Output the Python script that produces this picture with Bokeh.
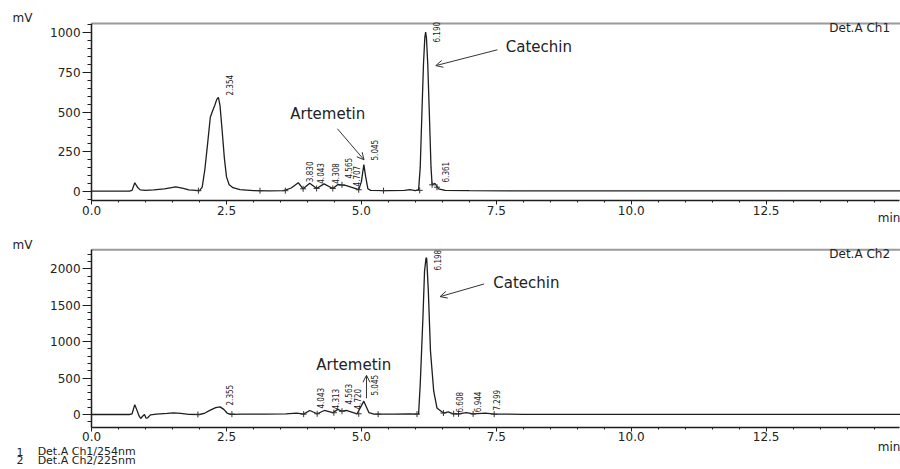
import math
from bokeh.plotting import figure
from bokeh.models import (Range1d, LinearAxis, SingleIntervalTicker, Label, LabelSet,
                          ColumnDataSource, Arrow, OpenHead, PrintfTickFormatter)
from bokeh.layouts import column
from bokeh.embed import file_html
from bokeh.resources import INLINE
from bokeh.core.properties import value

# ---------------- data ----------------
# Channel 1 (254 nm) trace: time (min) / signal (mV)
ch1_t = [0.00, 0.70, 0.75, 0.80, 0.85, 0.90, 1.00, 1.15, 1.35, 1.56, 1.70, 1.80, 2.00,
         2.05, 2.10, 2.15, 2.20, 2.24, 2.28, 2.32, 2.35, 2.38, 2.42, 2.46, 2.50, 2.55,
         2.62, 2.75, 3.00, 3.30, 3.56, 3.70, 3.83, 3.92, 4.043, 4.17, 4.308, 4.47, 4.565,
         4.64, 4.707, 4.95, 5.00, 5.045, 5.08, 5.12, 5.17, 5.50, 5.80, 5.90, 6.00, 6.06,
         6.09, 6.12, 6.15, 6.175, 6.19, 6.205, 6.23, 6.26, 6.29, 6.31, 6.361, 6.43, 6.55,
         7.00, 8.00, 10.00, 12.50, 15.00]
ch1_mv = [0, 0, 5, 53, 25, 8, 5, 8, 15, 27, 18, 8, 3,
          25, 140, 300, 467, 505, 540, 580, 593, 540, 380, 210, 90, 40,
          22, 10, 4, 2, 3, 20, 53, 15, 50, 17, 46, 17, 42,
          38, 36, 9, 60, 168, 90, 15, 5, 3, 5, 10, 4, 10,
          150, 480, 800, 970, 1004, 970, 800, 480, 150, 40, 50, 15, 5,
          3, 2, 2, 2, 2]

# Channel 2 (225 nm) trace
ch2_t = [0.00, 0.70, 0.75, 0.80, 0.84, 0.88, 0.91, 0.95, 0.98, 1.01, 1.04, 1.09, 1.20,
         1.40, 1.52, 1.65, 1.80, 2.00, 2.10, 2.20, 2.30, 2.38, 2.45, 2.51, 2.58, 2.80,
         3.20, 3.60, 3.80, 3.93, 4.043, 4.18, 4.313, 4.47, 4.563, 4.64, 4.72, 4.92,
         5.045, 5.14, 5.23, 5.60, 5.90, 6.03, 6.06, 6.09, 6.14, 6.17, 6.198, 6.21, 6.24,
         6.28, 6.34, 6.40, 6.52, 6.608, 6.70, 6.80, 6.944, 7.07, 7.299, 7.46, 8.00,
         10.00, 12.50, 15.00]
ch2_mv = [0, 0, 10, 135, 60, -20, -55, -20, 0, -50, -45, -5, 5,
          15, 23, 15, 3, 0, 20, 60, 95, 105, 70, 20, 3, 5,
          5, 8, 20, 5, 55, 10, 55, 25, 70, 45, 55, 10,
          183, 25, 5, 5, 8, 5, 10, 412, 1327, 1968, 2152, 2140, 1700,
          870, 320, 90, 20, 35, 10, 8, 25, 8, 20, 5, 3,
          3, 3, 3]

# Peak labels (retention time) and the level (mV) where each label starts
ch1_labels = ["2.354", "3.830", "4.043", "4.308", "4.565", "4.707", "5.045", "6.190", "6.361"]
ch1_label_mv = [604, 57, 47, 47, 80, 30, 194, 939, 55]
ch2_labels = ["2.355", "4.043", "4.313", "4.563", "4.720", "5.045", "6.198", "6.608", "6.944", "7.299"]
ch2_label_mv = [124, 82, 69, 137, 69, 261, 1978, 27, 32, 55]

# Integration marks (time, mV)
ch1_mark_t = [1.98, 3.12, 3.59, 3.92, 4.17, 4.47, 4.64, 4.95, 5.41, 6.08, 6.31, 6.40]
ch1_mark_mv = [3, 3, 3, 15, 17, 17, 40, 9, 3, 5, 40, 25]
ch2_mark_t = [1.97, 2.60, 3.93, 4.18, 4.49, 4.64, 4.95, 5.31, 6.03, 6.52, 6.71, 6.80, 7.07, 7.46]
ch2_mark_mv = [0, 5, 5, 10, 25, 45, 10, 5, 5, 20, 10, 8, 8, 5]

# axes
t_min, t_max = 0.0, 14.98
x_tick_step = 2.5
ch1_y_bounds = (-59, 1059)
ch2_y_bounds = (-174, 2261)
ch1_y_step = 250
ch2_y_step = 500

FONT = "DejaVu Sans"
NARROW = "DejaVu Sans Condensed"
INK = "#1e1e1e"
TXT = "#222222"
W = 900
X_VIEW = (-1.688, 14.99)


def make_panel(h, y_view, y_bounds, y_step, t, mv, labels, label_mv, mark_t, mark_mv):
    p = figure(width=W, height=h, x_range=Range1d(*X_VIEW), y_range=Range1d(*y_view),
               output_backend="svg", toolbar_location=None,
               x_axis_type=None, y_axis_type=None,
               min_border_left=0, min_border_right=0, min_border_top=0, min_border_bottom=0)
    p.outline_line_color = None
    p.background_fill_color = "white"
    p.border_fill_color = "white"

    xa = LinearAxis(ticker=SingleIntervalTicker(interval=x_tick_step, num_minor_ticks=5),
                    formatter=PrintfTickFormatter(format="%.1f"),
                    fixed_location=y_bounds[0], bounds=(t_min, t_max))
    xa.axis_line_color = INK
    xa.axis_line_width = 1.5
    xa.major_tick_line_color = INK
    xa.minor_tick_line_color = INK
    xa.major_tick_in = 0
    xa.major_tick_out = 4
    xa.minor_tick_in = 0
    xa.minor_tick_out = 2
    xa.major_label_standoff = 1
    xa.major_label_text_font = FONT
    xa.major_label_text_font_size = "12px"
    xa.major_label_text_color = TXT
    p.add_layout(xa, "below")

    ya = LinearAxis(ticker=SingleIntervalTicker(interval=y_step, num_minor_ticks=5),
                    fixed_location=t_min, bounds=y_bounds)
    ya.axis_line_color = INK
    ya.axis_line_width = 1.5
    ya.major_tick_line_color = INK
    ya.minor_tick_line_color = INK
    ya.major_tick_in = 0
    ya.major_tick_out = 9
    ya.minor_tick_in = 0
    ya.minor_tick_out = 4
    ya.major_label_standoff = 2
    ya.major_label_text_font = FONT
    ya.major_label_text_font_size = "12px"
    ya.major_label_text_color = TXT
    p.add_layout(ya, "left")

    # top border of the plotting area
    p.line([t_min, X_VIEW[1]], [y_bounds[1], y_bounds[1]], line_color="#9a9a9a", line_width=2)

    p.line(t, mv, line_color=INK, line_width=1.3)
    p.scatter(mark_t, mark_mv, marker="cross", size=6, line_color="#333333", line_width=1)

    src = ColumnDataSource(dict(x=[float(s) for s in labels], y=label_mv, text=labels))
    p.add_layout(LabelSet(x="x", y="y", text="text", source=src, angle=math.pi / 2,
                          text_align="left", text_baseline="middle", x_offset=11,
                          text_font=value(NARROW), text_font_size=value("8px"),
                          text_color=value(TXT)))
    return p


def txt(p, x, y, s, size="12px", align="left"):
    p.add_layout(Label(x=x, y=y, text=s, text_font=FONT, text_font_size=size,
                       text_align=align, text_baseline="middle", text_color=TXT))


def arrow(p, x0, y0, x1, y1):
    p.add_layout(Arrow(x_start=x0, y_start=y0, x_end=x1, y_end=y1, line_color="#333333",
                       line_width=1, end=OpenHead(size=7, line_color="#333333", line_width=1)))


# ---------------- top panel (page y 0..225) ----------------
p1 = make_panel(225, (-216.9, 1204.3), ch1_y_bounds, ch1_y_step, ch1_t, ch1_mv,
                ch1_labels, ch1_label_mv, ch1_mark_t, ch1_mark_mv)
txt(p1, -1.466, 1095, "mV")
txt(p1, 13.67, 1031, "Det.A Ch1")
txt(p1, 14.57, -172, "min")
txt(p1, 8.289, 909, "Catechin", "15px", "center")
arrow(p1, 7.52, 893, 6.378, 793)
txt(p1, 4.376, 489, "Artemetin", "15px", "center")
arrow(p1, 4.556, 394, 5.049, 198)

# ---------------- bottom panel (page y 225..469) ----------------
p2 = make_panel(244, (-755, 2594.4), ch2_y_bounds, ch2_y_step, ch2_t, ch2_mv,
                ch2_labels, ch2_label_mv, ch2_mark_t, ch2_mark_mv)
txt(p2, -1.466, 2320, "mV")
txt(p2, 13.67, 2206, "Det.A Ch2")
txt(p2, 14.57, -449, "min")
txt(p2, 8.057, 1808, "Catechin", "15px", "center")
arrow(p2, 7.274, 1792, 6.458, 1618)
txt(p2, 4.858, 684, "Artemetin", "15px", "center")
arrow(p2, 5.094, 223, 5.094, 538)

footer = [("1", "Det.A Ch1/254nm", -508), ("2", "Det.A Ch2/225nm", -631)]
for num, s, yy in footer:
    txt(p2, -1.39, yy, num, "11px")
    txt(p2, -1.0, yy, s, "11px")

layout = column(p1, p2, spacing=0)
open("out.html", "w").write(file_html(layout, INLINE))
